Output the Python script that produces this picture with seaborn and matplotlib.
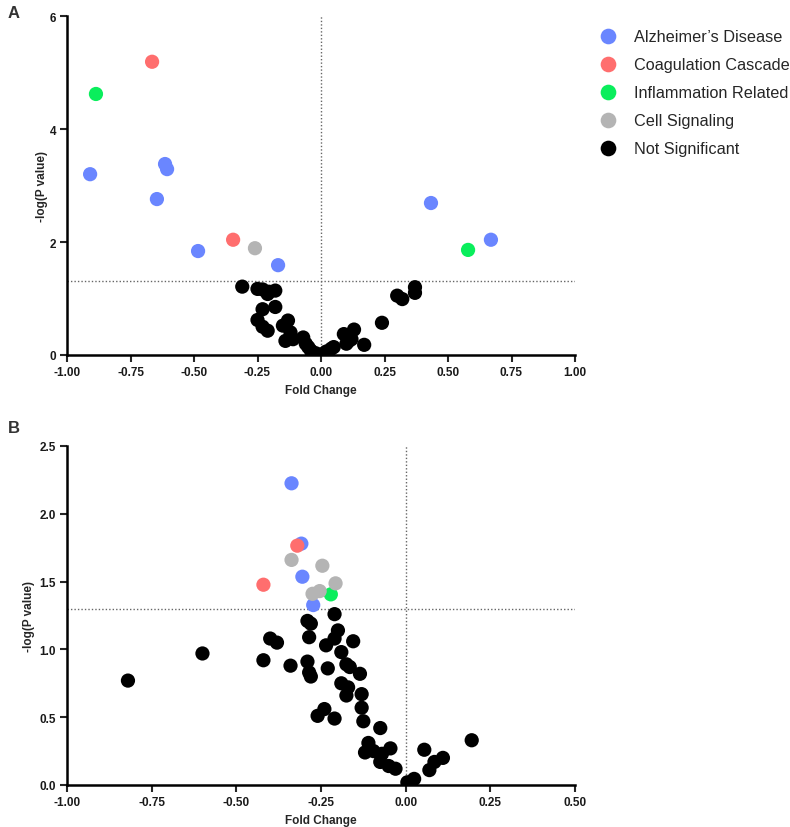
import pandas as pd
import matplotlib.pyplot as plt
import seaborn as sns

# Panel A data (fold change, -log10 p)
a_alz_fc = [-0.909, -0.614, -0.606, -0.646, -0.484, -0.169, 0.433, 0.669]
a_alz_p = [3.20, 3.38, 3.29, 2.76, 1.84, 1.59, 2.69, 2.04]
a_coag_fc = [-0.665, -0.346]
a_coag_p = [5.19, 2.04]
a_infl_fc = [-0.886, 0.579]
a_infl_p = [4.62, 1.86]
a_cell_fc = [-0.26]
a_cell_p = [1.89]
a_ns_fc = [-0.31, -0.25, -0.23, -0.21, -0.18, -0.205, -0.23, -0.18, -0.25, -0.23,
           -0.21, -0.13, -0.15, -0.12, -0.14, -0.11, -0.07, -0.06, -0.05, -0.04,
           -0.02, 0.00, 0.01, 0.02, 0.04, 0.05, 0.09, 0.13, 0.10, 0.12,
           0.11, 0.17, 0.24, 0.30, 0.32, 0.37, 0.37]
a_ns_p = [1.21, 1.17, 1.16, 1.08, 1.14, 1.12, 0.81, 0.85, 0.62, 0.50,
          0.43, 0.61, 0.52, 0.40, 0.25, 0.28, 0.31, 0.20, 0.14, 0.08,
          0.03, 0.00, 0.02, 0.06, 0.11, 0.14, 0.37, 0.45, 0.20, 0.28,
          0.25, 0.18, 0.57, 1.05, 0.99, 1.20, 1.10]

# Panel B data
b_alz_fc = [-0.337, -0.308, -0.305, -0.273]
b_alz_p = [2.225, 1.78, 1.536, 1.327]
b_coag_fc = [-0.320, -0.420]
b_coag_p = [1.765, 1.477]
b_infl_fc = [-0.221]
b_infl_p = [1.406]
b_cell_fc = [-0.337, -0.246, -0.207, -0.275, -0.254]
b_cell_p = [1.66, 1.617, 1.487, 1.41, 1.43]
b_ns_fc = [-0.82, -0.60, -0.40, -0.38, -0.42, -0.34,
           -0.21, -0.29, -0.28, -0.20, -0.285, -0.21, -0.235, -0.155, -0.19,
           -0.29, -0.285, -0.28, -0.23, -0.175, -0.165, -0.135, -0.19, -0.17,
           -0.175, -0.13, -0.13, -0.24, -0.26, -0.21, -0.125, -0.075, -0.11,
           -0.12, -0.095, -0.07, -0.045, -0.075, -0.05, -0.03, 0.005, 0.025,
           0.055, 0.07, 0.085, 0.11, 0.195]
b_ns_p = [0.77, 0.97, 1.08, 1.05, 0.92, 0.88,
          1.26, 1.21, 1.19, 1.14, 1.09, 1.08, 1.03, 1.06, 0.98,
          0.91, 0.83, 0.80, 0.86, 0.89, 0.87, 0.82, 0.75, 0.72,
          0.66, 0.67, 0.57, 0.56, 0.51, 0.49, 0.47, 0.42, 0.31,
          0.24, 0.25, 0.23, 0.27, 0.17, 0.14, 0.12, 0.02, 0.045,
          0.26, 0.11, 0.17, 0.20, 0.33]

categories = ["Alzheimer\u2019s Disease", "Coagulation Cascade", "Inflammation Related",
              "Cell Signaling", "Not Significant"]
colors = ["#6A86FF", "#FF6E6E", "#0AEE5C", "#B4B4B4", "#000000"]

a_x_ticks = [-1.0, -0.75, -0.5, -0.25, 0.0, 0.25, 0.5, 0.75, 1.0]
a_y_ticks = [0, 2, 4, 6]
b_x_ticks = [-1.0, -0.75, -0.5, -0.25, 0.0, 0.25, 0.5]
b_y_ticks = [0.0, 0.5, 1.0, 1.5, 2.0, 2.5]


def build_frame(groups):
    rows = []
    for cat, (fc, p) in zip(categories, groups):
        for x, y in zip(fc, p):
            rows.append({"Fold Change": x, "-log(P value)": y, "Category": cat})
    return pd.DataFrame(rows)


df_a = build_frame([(a_alz_fc, a_alz_p), (a_coag_fc, a_coag_p), (a_infl_fc, a_infl_p),
                    (a_cell_fc, a_cell_p), (a_ns_fc, a_ns_p)])
df_b = build_frame([(b_alz_fc, b_alz_p), (b_coag_fc, b_coag_p), (b_infl_fc, b_infl_p),
                    (b_cell_fc, b_cell_p), (b_ns_fc, b_ns_p)])

sns.set_theme(style="ticks")
plt.rcParams["font.family"] = ["Liberation Sans", "DejaVu Sans"]

fig = plt.figure(figsize=(7.9, 8.28), dpi=100)
ax_a = fig.add_axes([67 / 790, 1 - 356 / 828, 508 / 790, 339 / 828])
ax_b = fig.add_axes([67 / 790, 1 - 786 / 828, 508 / 790, 339 / 828])

palette = dict(zip(categories, colors))


def style_axis(ax, df, xlim, ylim, xticks, yticks, yfmt, show_legend, ypad):
    # reference lines drawn first so points sit on top
    ax.axvline(0, color="#666666", ls=(0, (1, 1.5)), lw=1, zorder=1)
    ax.axhline(1.301, color="#666666", ls=(0, (1, 1.5)), lw=1, zorder=1)
    sns.scatterplot(data=df, x="Fold Change", y="-log(P value)", hue="Category",
                    hue_order=categories, palette=palette, s=105, linewidth=0,
                    alpha=1, ax=ax, legend=show_legend, zorder=3)
    ax.set_xlim(*xlim)
    ax.set_ylim(*ylim)
    ax.set_xticks(xticks)
    ax.set_xticklabels([f"{t:.2f}" for t in xticks])
    ax.set_yticks(yticks)
    ax.set_yticklabels([yfmt.format(t) for t in yticks])
    for lbl in ax.get_xticklabels() + ax.get_yticklabels():
        lbl.set_fontweight("bold")
        lbl.set_fontsize(8.5)
        lbl.set_color("#1a1a1a")
    ax.set_xlabel("Fold Change", fontsize=8.5, fontweight="bold", labelpad=4)
    ax.set_ylabel("-log(P value)", fontsize=8.5, fontweight="bold", labelpad=ypad)
    ax.tick_params(direction="out", length=5, width=1.5, pad=3)
    sns.despine(ax=ax)
    for side in ["left", "bottom"]:
        ax.spines[side].set_linewidth(1.8)
        ax.spines[side].set_color("black")


style_axis(ax_a, df_a, (-1, 1), (0, 6), a_x_ticks, a_y_ticks, "{:.0f}", True, 1)
style_axis(ax_b, df_b, (-1, 0.5), (0, 2.5), b_x_ticks, b_y_ticks, "{:.1f}", False, 3)

sns.move_legend(ax_a, "upper left", bbox_to_anchor=(1.02, 0.98), frameon=False,
                title=None, fontsize=11.7, markerscale=1.1, labelspacing=0.8,
                handletextpad=0.6, borderaxespad=0)

fig.text(8 / 790, 1 - 14 / 828, "A", fontsize=12, fontweight="bold", color="#333333",
         va="center", ha="left")
fig.text(8 / 790, 1 - 429 / 828, "B", fontsize=12, fontweight="bold", color="#333333",
         va="center", ha="left")

fig.savefig("out.png", dpi=100)
